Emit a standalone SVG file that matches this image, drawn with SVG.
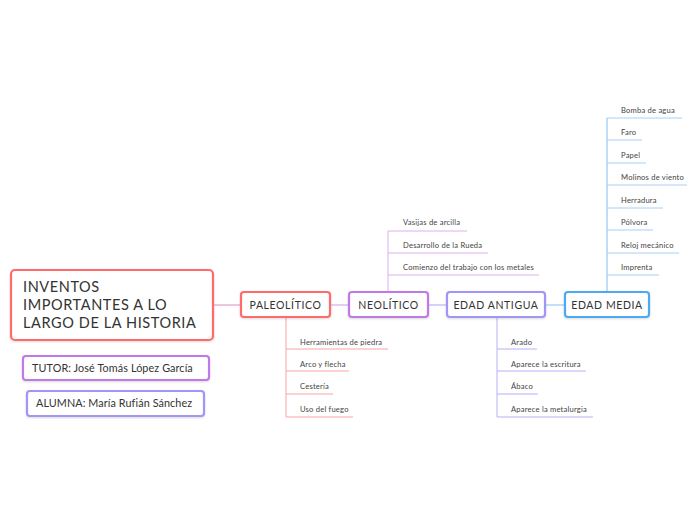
<svg xmlns="http://www.w3.org/2000/svg" width="697" height="520" viewBox="0 0 697 520">
<style>
text{font-family:Lato,"Open Sans","Liberation Sans",sans-serif;fill:#333}
.box{fill:#fff;stroke-width:2.2}
.title{font-size:14.5px;letter-spacing:0.6px}
.mid{font-size:10.5px;text-anchor:middle;letter-spacing:0.6px}
.small{font-size:10.8px;letter-spacing:0.1px}
.leaf{font-size:7.6px;fill:#444;letter-spacing:0.2px}
.l{fill:none;stroke-width:1}
</style>
<defs>
<filter id="sh" x="-10%" y="-20%" width="120%" height="150%">
<feDropShadow dx="0" dy="1" stdDeviation="1" flood-color="#000" flood-opacity="0.15"/>
</filter>
</defs>
<rect width="697" height="520" fill="#fff"/>
<g id="connectors">
<path class="l" d="M214 305H241" stroke="#d98fc0" stroke-width="1.5"/>
<path class="l" d="M330 305H349" stroke="#c99af0" stroke-width="1.5"/>
<path class="l" d="M428 305H447" stroke="#a9a3f8" stroke-width="1.5"/>
<path class="l" d="M545 305H565" stroke="#88bff2" stroke-width="1.5"/>
<g stroke="#f7a3a3">
<path class="l" d="M286 317V417"/>
<path class="l" d="M286 349H388M286 371H349M286 394H333M286 417H353"/>
</g>
<g stroke="#e0aef0">
<path class="l" d="M388 292V231"/>
<path class="l" d="M388 231H467M388 253H488M388 275H539"/>
</g>
<g stroke="#b8b0f8">
<path class="l" d="M497 317V417"/>
<path class="l" d="M497 349H537M497 371H586M497 394H538M497 417H593"/>
</g>
<g stroke="#a9d0f5">
<path class="l" d="M607 292V118" stroke="#7dbcf2" stroke-width="1.5"/>
<path class="l" d="M607 118H682M607 140H642M607 163H646M607 185H687M607 208H663M607 230H653M607 253H679M607 275H659"/>
</g>
</g>
<g id="root">
<rect class="box" x="11" y="270" width="202" height="70" rx="4" stroke="#ff6b6b" filter="url(#sh)"/>
<text class="title" x="23" y="292">INVENTOS</text>
<text class="title" x="23" y="310">IMPORTANTES A LO</text>
<text class="title" x="23" y="328">LARGO DE LA HISTORIA</text>
</g>
<g id="tutor">
<rect class="box" x="23" y="356" width="186" height="24" rx="3" stroke="#c07ae6" filter="url(#sh)"/>
<text class="small" x="32" y="372">TUTOR: José Tomás López García</text>
</g>
<g id="alumna">
<rect class="box" x="27" y="391" width="177" height="25" rx="3" stroke="#9f96f6" filter="url(#sh)"/>
<text class="small" x="36" y="407">ALUMNA: María Rufián Sánchez</text>
</g>
<g id="paleolitico">
<rect class="box" x="241" y="292" width="89" height="25" rx="3" stroke="#ff6b6b" filter="url(#sh)"/>
<text class="mid" x="285.5" y="308.5">PALEOLÍTICO</text>
</g>
<g id="neolitico">
<rect class="box" x="349" y="292" width="79" height="25" rx="3" stroke="#c07ae6" filter="url(#sh)"/>
<text class="mid" x="388.5" y="308.5">NEOLÍTICO</text>
</g>
<g id="edad-antigua">
<rect class="box" x="447" y="292" width="98" height="25" rx="3" stroke="#9f96f6" filter="url(#sh)"/>
<text class="mid" x="496" y="308.5">EDAD ANTIGUA</text>
</g>
<g id="edad-media">
<rect class="box" x="565" y="292" width="84" height="25" rx="3" stroke="#4da9f2" filter="url(#sh)"/>
<text class="mid" x="607" y="308.5">EDAD MEDIA</text>
</g>
<g id="paleolitico-items">
<text class="leaf" x="300" y="345">Herramientas de piedra</text>
<text class="leaf" x="300" y="367">Arco y flecha</text>
<text class="leaf" x="300" y="389">Cestería</text>
<text class="leaf" x="300" y="412">Uso del fuego</text>
</g>
<g id="neolitico-items">
<text class="leaf" x="403" y="225">Vasijas de arcilla</text>
<text class="leaf" x="403" y="248">Desarrollo de la Rueda</text>
<text class="leaf" x="403" y="270">Comienzo del trabajo con los metales</text>
</g>
<g id="edad-antigua-items">
<text class="leaf" x="511" y="345">Arado</text>
<text class="leaf" x="511" y="367">Aparece la escritura</text>
<text class="leaf" x="511" y="389">Ábaco</text>
<text class="leaf" x="511" y="412">Aparece la metalurgia</text>
</g>
<g id="edad-media-items">
<text class="leaf" x="621" y="113">Bomba de agua</text>
<text class="leaf" x="621" y="135">Faro</text>
<text class="leaf" x="621" y="158">Papel</text>
<text class="leaf" x="621" y="180">Molinos de viento</text>
<text class="leaf" x="621" y="203">Herradura</text>
<text class="leaf" x="621" y="225">Pólvora</text>
<text class="leaf" x="621" y="248">Reloj mecánico</text>
<text class="leaf" x="621" y="270">Imprenta</text>
</g>
</svg>
